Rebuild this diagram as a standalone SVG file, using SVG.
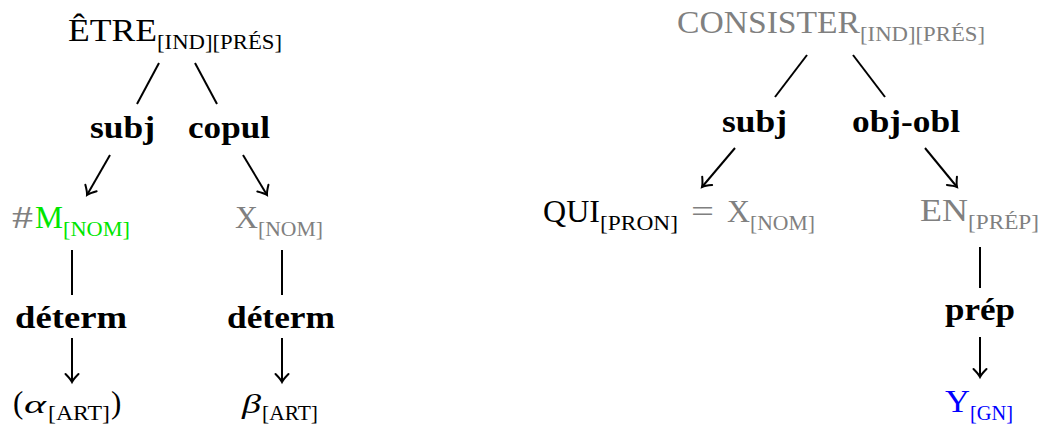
<svg xmlns="http://www.w3.org/2000/svg" width="1046" height="428" viewBox="0 0 1046 428">
<style>
text{font-family:"Liberation Serif","DejaVu Serif",serif;}
.m{font-size:31px;}
.s{font-size:22px;}
.b{font-size:31px;font-weight:bold;}
.g{fill:#808080;}
.gr{fill:#00e600;}
.bl{fill:#0000ff;}
.k{fill:#000;}
.it{font-style:italic;}
.ln{stroke:#000;stroke-width:2;fill:none;}
</style>
<defs>
<marker id="ah" viewBox="-10 -8 12 16" refX="0" refY="0" markerWidth="12" markerHeight="16" markerUnits="userSpaceOnUse" orient="auto" overflow="visible">
<path d="M-8,-6.5 Q-3,-1.5 0,0 Q-3,1.5 -8,6.5" fill="none" stroke="#000" stroke-width="2" stroke-linecap="round"/>
</marker>
</defs>
<g id="connectors">
<line class="ln" x1="159" y1="63" x2="137" y2="104"/>
<line class="ln" x1="195" y1="63" x2="217" y2="104"/>
<line class="ln" x1="110" y1="155" x2="87" y2="195" marker-end="url(#ah)"/>
<line class="ln" x1="243" y1="155" x2="267" y2="195" marker-end="url(#ah)"/>
<line class="ln" x1="72" y1="250" x2="72" y2="295"/>
<line class="ln" x1="282" y1="250" x2="282" y2="295"/>
<line class="ln" x1="72" y1="338" x2="72" y2="382" marker-end="url(#ah)"/>
<line class="ln" x1="282" y1="338" x2="282" y2="382" marker-end="url(#ah)"/>
<line class="ln" x1="807" y1="55" x2="775" y2="97"/>
<line class="ln" x1="853" y1="55" x2="885" y2="97"/>
<line class="ln" x1="735" y1="148" x2="702" y2="187" marker-end="url(#ah)"/>
<line class="ln" x1="925" y1="148" x2="957" y2="187" marker-end="url(#ah)"/>
<line class="ln" x1="980" y1="247" x2="980" y2="288"/>
<line class="ln" x1="980" y1="337" x2="980" y2="377" marker-end="url(#ah)"/>
</g>
<g id="etre">
<text class="m k" x="68" y="41" textLength="89" lengthAdjust="spacingAndGlyphs">ÊTRE</text>
<text class="s k" x="157" y="49" textLength="125" lengthAdjust="spacingAndGlyphs">[IND][PRÉS]</text>
</g>
<g id="subj-left">
<text class="b k" x="90" y="138" textLength="65" lengthAdjust="spacingAndGlyphs">subj</text>
</g>
<g id="copul">
<text class="b k" x="188" y="138" textLength="82" lengthAdjust="spacingAndGlyphs">copul</text>
</g>
<g id="m-nom">
<text class="m g" x="12" y="228" textLength="21" lengthAdjust="spacingAndGlyphs">#</text>
<text class="m gr" x="35" y="228" textLength="28" lengthAdjust="spacingAndGlyphs">M</text>
<text class="s gr" x="63" y="236" textLength="67" lengthAdjust="spacingAndGlyphs">[NOM]</text>
</g>
<g id="x-nom-left">
<text class="m g" x="235" y="228" textLength="23" lengthAdjust="spacingAndGlyphs">X</text>
<text class="s g" x="258" y="236" textLength="65" lengthAdjust="spacingAndGlyphs">[NOM]</text>
</g>
<g id="determ-left">
<text class="b k" x="15" y="328" textLength="112" lengthAdjust="spacingAndGlyphs">déterm</text>
</g>
<g id="determ-right">
<text class="b k" x="227" y="328" textLength="108" lengthAdjust="spacingAndGlyphs">déterm</text>
</g>
<g id="alpha">
<text class="m k" x="13" y="413">(</text>
<text class="k it" style="font-size:26px" x="24" y="413" textLength="22" lengthAdjust="spacingAndGlyphs">α</text>
<text class="s k" x="48" y="420" textLength="62" lengthAdjust="spacingAndGlyphs">[ART]</text>
<text class="m k" x="111" y="413">)</text>
</g>
<g id="beta">
<text class="k it" style="font-size:28px" x="242" y="413" textLength="19" lengthAdjust="spacingAndGlyphs">β</text>
<text class="s k" x="262" y="420" textLength="56" lengthAdjust="spacingAndGlyphs">[ART]</text>
</g>
<g id="consister">
<text class="m g" x="677" y="33" textLength="183" lengthAdjust="spacingAndGlyphs">CONSISTER</text>
<text class="s g" x="860" y="41" textLength="125" lengthAdjust="spacingAndGlyphs">[IND][PRÉS]</text>
</g>
<g id="subj-right">
<text class="b k" x="722" y="132" textLength="65" lengthAdjust="spacingAndGlyphs">subj</text>
</g>
<g id="obj-obl">
<text class="b k" x="852" y="132" textLength="108" lengthAdjust="spacingAndGlyphs">obj-obl</text>
</g>
<g id="qui">
<text class="m k" x="543" y="222" textLength="57" lengthAdjust="spacingAndGlyphs">QUI</text>
<text class="s k" x="600" y="230" textLength="78" lengthAdjust="spacingAndGlyphs">[PRON]</text>
<text class="m g" x="691" y="222" textLength="23" lengthAdjust="spacingAndGlyphs">=</text>
<text class="m g" x="727" y="222" textLength="23" lengthAdjust="spacingAndGlyphs">X</text>
<text class="s g" x="750" y="230" textLength="65" lengthAdjust="spacingAndGlyphs">[NOM]</text>
</g>
<g id="en">
<text class="m g" x="920" y="221" textLength="48" lengthAdjust="spacingAndGlyphs">EN</text>
<text class="s g" x="968" y="229" textLength="71" lengthAdjust="spacingAndGlyphs">[PRÉP]</text>
</g>
<g id="prep">
<text class="b k" x="945" y="320" textLength="70" lengthAdjust="spacingAndGlyphs">prép</text>
</g>
<g id="y-gn">
<text class="m bl" x="945" y="412" textLength="25" lengthAdjust="spacingAndGlyphs">Y</text>
<text class="s bl" x="970" y="420" textLength="43" lengthAdjust="spacingAndGlyphs">[GN]</text>
</g>
</svg>
